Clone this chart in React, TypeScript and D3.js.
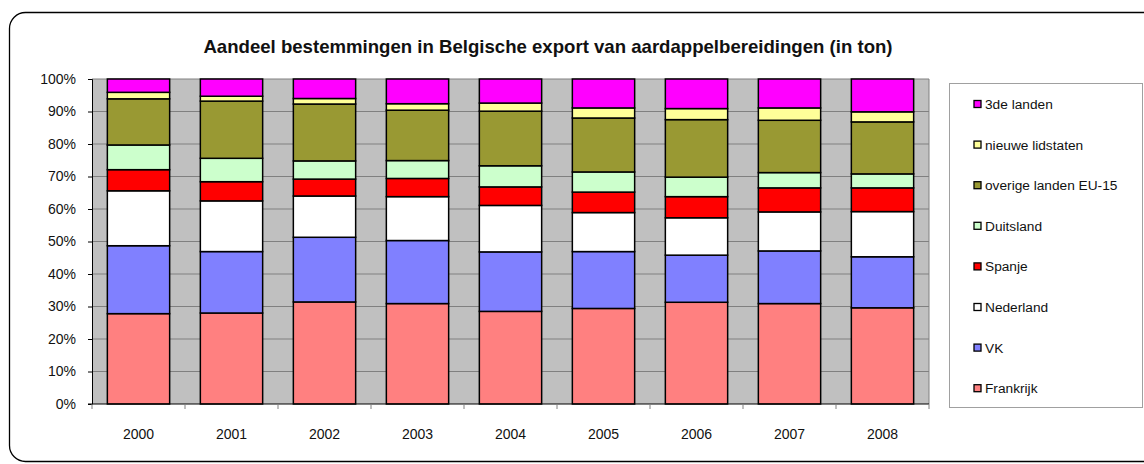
import * as d3 from 'd3';
import React, { useRef, useEffect } from 'react';

const years = ['2000', '2001', '2002', '2003', '2004', '2005', '2006', '2007', '2008'];

// shares per destination, in %, bottom to top
const frankrijk = [27.8, 28.0, 31.4, 30.9, 28.5, 29.4, 31.3, 30.9, 29.6];
const vk = [20.9, 18.9, 19.9, 19.4, 18.3, 17.5, 14.5, 16.2, 15.7];
const nederland = [16.9, 15.6, 12.7, 13.5, 14.3, 12.0, 11.5, 12.0, 13.9];
const spanje = [6.5, 5.9, 5.2, 5.6, 5.7, 6.3, 6.5, 7.4, 7.3];
const duitsland = [7.6, 7.2, 5.6, 5.5, 6.5, 6.2, 6.0, 4.7, 4.3];
const overige = [14.2, 17.6, 17.5, 15.5, 16.8, 16.6, 17.7, 16.1, 16.0];
const nieuwe = [2.0, 1.5, 1.7, 2.0, 2.5, 3.1, 3.4, 3.8, 3.1];
const derde = [4.1, 5.3, 6.0, 7.6, 7.4, 8.9, 9.1, 8.9, 10.1];

const seriesNames = ['Frankrijk', 'VK', 'Nederland', 'Spanje', 'Duitsland', 'overige landen EU-15', 'nieuwe lidstaten', '3de landen'];
const seriesValues = [frankrijk, vk, nederland, spanje, duitsland, overige, nieuwe, derde];
const colors = ['#ff8080', '#8080ff', '#ffffff', '#ff0000', '#ccffcc', '#999933', '#ffff99', '#ff00ff'];

const W = 1144;
const H = 464;
const margin = { left: 92, right: 215, top: 79, bottom: 60 };

function Chart() {
    const ref = useRef();

    useEffect(() => {
        const svg = d3.select(ref.current);
        svg.selectAll('*').remove();

        const font = 'Liberation Sans, Arial, sans-serif';

        // outer frame (runs off the right edge)
        svg.append('rect')
            .attr('x', 9.5).attr('y', 12.5)
            .attr('width', 1160).attr('height', 449)
            .attr('rx', 16)
            .attr('fill', 'white')
            .attr('stroke', '#000')
            .attr('stroke-width', 1.3);

        svg.append('text')
            .attr('x', 548).attr('y', 53)
            .attr('text-anchor', 'middle')
            .attr('font-family', font)
            .attr('font-weight', 'bold')
            .attr('font-size', 18.6)
            .attr('fill', '#111')
            .text('Aandeel bestemmingen in Belgische export van aardappelbereidingen (in ton)');

        const x = d3.scaleBand()
            .domain(years)
            .range([margin.left, W - margin.right])
            .paddingInner(0.33)
            .paddingOuter(0.165);

        const y = d3.scaleLinear()
            .domain([0, 100])
            .range([H - margin.bottom, margin.top]);

        // plot background
        svg.append('rect')
            .attr('x', margin.left).attr('y', margin.top)
            .attr('width', W - margin.right - margin.left)
            .attr('height', y(0) - y(100))
            .attr('fill', '#c0c0c0');

        const g = svg.append('g');
        d3.range(10, 101, 10).forEach(t => {
            g.append('line')
                .attr('x1', margin.left).attr('x2', W - margin.right)
                .attr('y1', y(t)).attr('y2', y(t))
                .attr('stroke', '#808080').attr('stroke-width', 1);
        });
        g.append('line')
            .attr('x1', W - margin.right).attr('x2', W - margin.right)
            .attr('y1', y(0)).attr('y2', y(100))
            .attr('stroke', '#808080');

        const table = years.map((yr, i) => {
            const row = { year: yr };
            seriesNames.forEach((n, k) => { row[n] = seriesValues[k][i]; });
            return row;
        });
        const stacked = d3.stack().keys(seriesNames)(table);
        const total = (d) => d3.sum(seriesNames, n => d.data[n]);

        stacked.forEach((s, k) => {
            svg.append('g').selectAll('rect')
                .data(s)
                .enter()
                .append('rect')
                .attr('x', d => x(d.data.year))
                .attr('width', x.bandwidth())
                .attr('y', d => y(d[1] / total(d) * 100))
                .attr('height', d => y(d[0] / total(d) * 100) - y(d[1] / total(d) * 100))
                .attr('fill', colors[k])
                .attr('stroke', '#000')
                .attr('stroke-width', 1.5);
        });

        // y axis
        const yAxis = svg.append('g')
            .attr('transform', `translate(${margin.left},0)`)
            .call(d3.axisLeft(y).tickValues(d3.range(0, 101, 10)).tickSize(4).tickPadding(12).tickFormat(d => d + '%'));
        yAxis.select('.domain').attr('stroke', '#000');
        yAxis.selectAll('text').attr('font-family', font).attr('font-size', 14).attr('fill', '#111');

        // x axis
        const xAxis = svg.append('g')
            .attr('transform', `translate(0,${y(0)})`);
        xAxis.append('line')
            .attr('x1', margin.left - 4).attr('x2', W - margin.right)
            .attr('stroke', '#000').attr('stroke-width', 1);
        d3.range(0, years.length + 1).forEach(i => {
            const xp = margin.left + i * (W - margin.right - margin.left) / years.length;
            xAxis.append('line')
                .attr('x1', xp).attr('x2', xp).attr('y1', 0).attr('y2', 5)
                .attr('stroke', '#808080');
        });
        xAxis.selectAll('text.yr')
            .data(years)
            .enter()
            .append('text')
            .attr('class', 'yr')
            .attr('x', d => x(d) + x.bandwidth() / 2)
            .attr('y', 35)
            .attr('text-anchor', 'middle')
            .attr('font-family', font)
            .attr('font-size', 14)
            .attr('fill', '#111')
            .text(d => d);

        // legend
        const lg = svg.append('g');
        lg.append('rect')
            .attr('x', 949.5).attr('y', 83.5)
            .attr('width', 193).attr('height', 324)
            .attr('fill', 'white')
            .attr('stroke', '#a0a0a0');
        const order = d3.range(seriesNames.length).reverse();
        order.forEach((k, j) => {
            const cy = 104 + j * 40.6;
            lg.append('rect')
                .attr('x', 974).attr('y', cy - 3.5)
                .attr('width', 7).attr('height', 7)
                .attr('fill', colors[k])
                .attr('stroke', '#000').attr('stroke-width', 1.3);
            lg.append('text')
                .attr('x', 985).attr('y', cy + 5)
                .attr('font-family', font)
                .attr('font-size', 13.7)
                .attr('fill', '#111')
                .text(seriesNames[k]);
        });
    }, []);

    return (
        <svg ref={ref} width={W} height={H} style={{ position: 'absolute', left: 0, top: 0 }}>
        </svg>
    );
}

export default function App() {
    return <Chart />;
}
